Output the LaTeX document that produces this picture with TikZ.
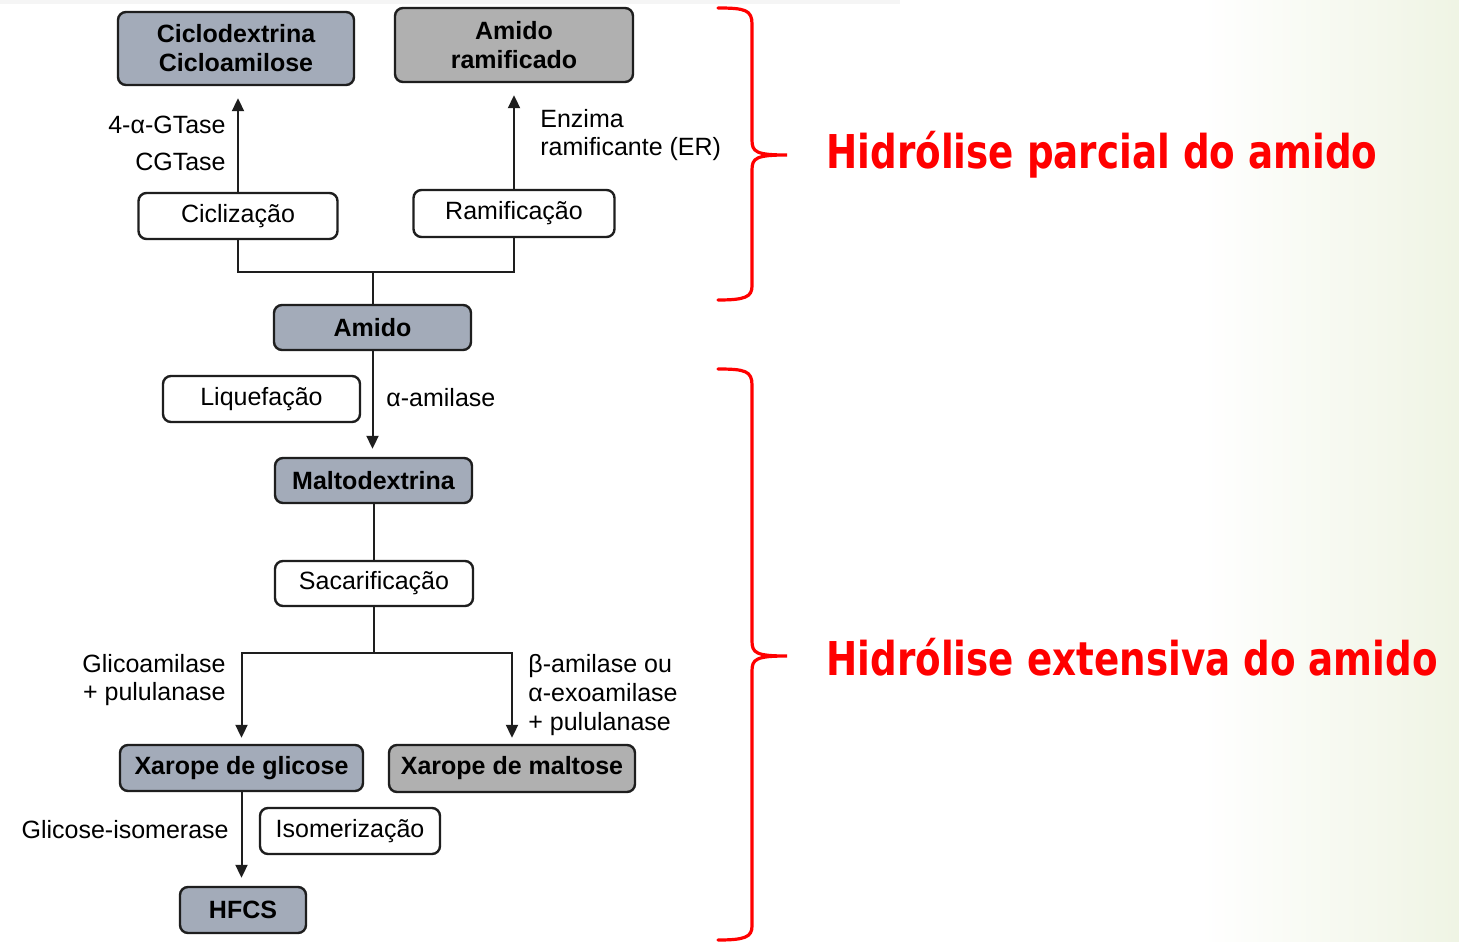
\documentclass[tikz,border=0pt]{standalone}
\usepackage{fontspec}
\setmainfont{Liberation Sans}
\newfontfamily\headfont{DejaVu Sans}
\usetikzlibrary{arrows.meta}
\definecolor{bluegrayA}{RGB}{163,171,185}
\definecolor{bluegrayB}{RGB}{200,206,216}
\definecolor{grayA}{RGB}{176,176,176}
\definecolor{grayB}{RGB}{214,214,214}
\definecolor{bggreen}{RGB}{239,244,228}
\definecolor{edge}{RGB}{30,30,30}
\tikzset{
  base/.style={draw=edge, line width=1.2pt, rounded corners=4pt, inner sep=0pt,
    font=\fontsize{12.5}{14.5}\selectfont, align=center},
  dimens/.style 2 args={minimum width=#1*0.5pt, minimum height=#2*0.5pt},
  bluebox/.style={base, font=\fontsize{12.5}{14.5}\selectfont\bfseries,
    left color=bluegrayA, middle color=bluegrayB, right color=bluegrayA},
  greybox/.style={base, font=\fontsize{12.5}{14.5}\selectfont\bfseries,
    left color=grayA, middle color=grayB, right color=grayA},
  stepbox/.style={base, fill=white},
  lbl/.style={inner sep=0pt, font=\fontsize{12.5}{14.3}\selectfont},
  conn/.style={draw=edge, line width=1pt},
  arr/.style={conn, -{Triangle[length=6.5pt,width=6pt]}},
  brace/.style={draw=red, line width=1.6pt, line cap=round},
  head/.style={inner sep=0pt, text=red, font=\headfont\fontsize{23.3}{26}\selectfont\bfseries}
}
\begin{document}
\begin{tikzpicture}[x=0.5pt,y=-0.5pt]
\useasboundingbox (0,0) rectangle (1459,941);
% page background
\fill[white] (0,0) rectangle (1459,941);
\shade[left color=white, right color=bggreen] (1200,0) rectangle (1459,941);
\fill[black!4] (0,0) rectangle (900,4);

% products and intermediates
\node[bluebox, dimens={236}{73}] (cyc) at (236,48.5) {Ciclodextrina\\Cicloamilose};
\node[greybox, dimens={238}{74}] (ram) at (514,45) {Amido\\ramificado};
\node[stepbox, dimens={199}{46}] (cicl) at (238,216) {Ciclização};
\node[stepbox, dimens={201}{47}] (ramif) at (514,213.5) {Ramificação};
\node[bluebox, dimens={197}{45}] (amido) at (372.5,327.5) {Amido};
\node[stepbox, dimens={197}{46}] (liq) at (261.5,399) {Liquefação};
\node[bluebox, dimens={197}{45}] (malto) at (373.5,480.5) {Maltodextrina};
\node[stepbox, dimens={198}{45}] (sac) at (374,583.5) {Sacarificação};
\node[bluebox, dimens={243}{46}] (xg) at (241.5,768) {Xarope de glicose};
\node[greybox, dimens={246}{47}] (xm) at (512,768.5) {Xarope de maltose};
\node[stepbox, dimens={180}{46}] (iso) at (350,831) {Isomerização};
\node[bluebox, dimens={126}{46}] (hfcs) at (243,910) {HFCS};

% enzyme labels
\node[lbl, anchor=east] (gt) at (226,125) {4-α-GTase};
\node[lbl, anchor=east] (cgt) at (226,162) {CGTase};
\node[lbl, anchor=west, align=left] (er) at (540,135) {Enzima\\ramificante (ER)};
\node[lbl, anchor=west] (aam) at (386,398) {α-amilase};
\node[lbl, anchor=east, align=right] (gli) at (226,680) {Glicoamilase\\+ pululanase};
\node[lbl, anchor=west, align=left] (bam) at (528,695) {β-amilase ou\\α-exoamilase\\+ pululanase};
\node[lbl, anchor=east] (giso) at (229,830) {Glicose-isomerase};

% connectors
\coordinate (j1) at (372.5,272);
\coordinate (j2) at (374,653);
\draw[arr, shorten >=6pt] (cicl.north) -- (cicl.north |- cyc.south);
\draw[arr, shorten >=6pt] (ramif.north) -- (ramif.north |- ram.south);
\draw[conn] (cicl.south) |- (j1) -| (ramif.south);
\draw[conn] (amido.north) -- (j1);
\draw[arr, shorten >=4pt] (amido.south) -- (amido.south |- malto.north);
\draw[conn] (malto.south) -- (malto.south |- sac.north);
\draw[conn] (sac.south) -- (j2);
\draw[arr, shorten >=3pt] (j2) -| (xg.north);
\draw[arr, shorten >=3pt] (j2) -| (xm.north);
\draw[arr, shorten >=4pt] (xg.south) -- (xg.south |- hfcs.north);

% braces
\coordinate (b1top) at (718,8);
\coordinate (b1tip) at (787,155);
\coordinate (b1bot) at (718,300);
\draw[brace] (b1top) .. controls (745,8) and (752,10) .. (752,24)
  -- (752,140) .. controls (752,152) and (756,155) .. (b1tip)
  .. controls (756,155) and (752,158) .. (752,170)
  -- (752,286) .. controls (752,297) and (745,300) .. (b1bot);
\coordinate (b2top) at (718,369);
\coordinate (b2tip) at (787,656);
\coordinate (b2bot) at (718,940);
\draw[brace] (b2top) .. controls (745,369) and (752,371) .. (752,385)
  -- (752,641) .. controls (752,653) and (756,656) .. (b2tip)
  .. controls (756,656) and (752,659) .. (752,671)
  -- (752,926) .. controls (752,937) and (745,940) .. (b2bot);

% group titles
\node[head, anchor=west] (t1) at (826,155) {\scalebox{0.8}[1]{Hidrólise parcial do amido}};
\node[head, anchor=west] (t2) at (826,657) {\scalebox{0.8}[1]{Hidrólise extensiva do amido}};
\end{tikzpicture}
\end{document}
